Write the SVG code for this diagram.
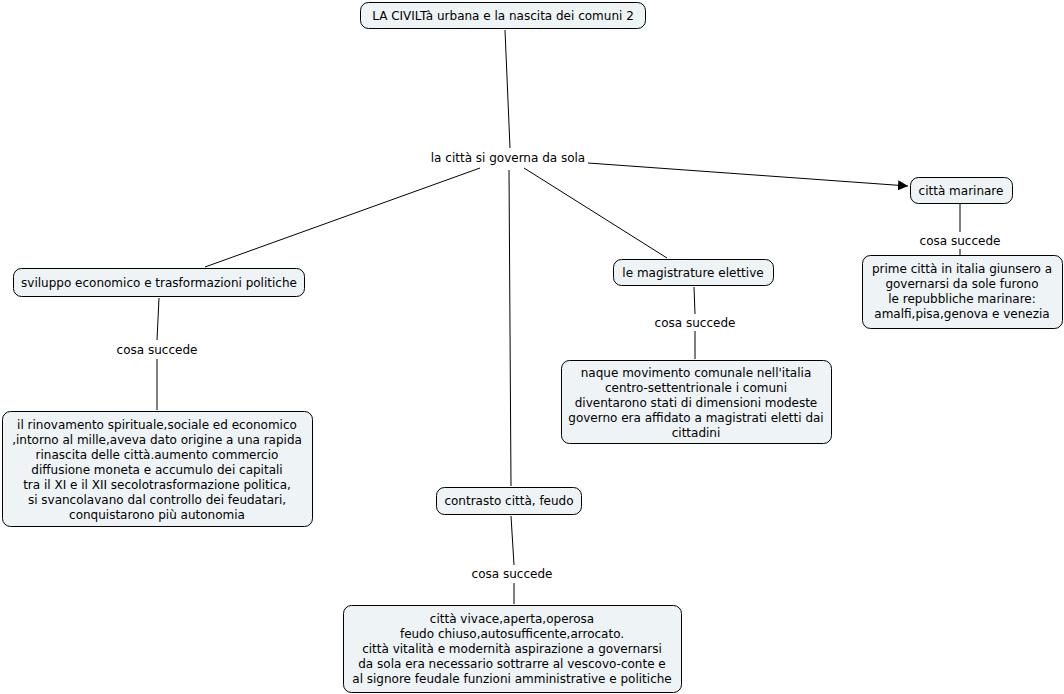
<svg xmlns="http://www.w3.org/2000/svg" width="1064" height="694" viewBox="0 0 1064 694">
<style>
.n{fill:#eef3f5;stroke:#000;stroke-width:1}
text{font-family:"DejaVu Sans",Verdana,sans-serif;font-size:12px;fill:#000;text-anchor:middle}
.c{stroke:#000;stroke-width:1;fill:none}
</style>
<defs>
<marker id="ar" viewBox="0 0 10 10" refX="10" refY="5" markerWidth="10" markerHeight="10" markerUnits="userSpaceOnUse" orient="auto">
<path d="M0,0 L10,5 L0,10 z" fill="#000"/>
</marker>
</defs>
<rect width="1064" height="694" fill="#fff"/>
<g id="connectors">
<line class="c" x1="505" y1="30" x2="510" y2="148"/>
<line class="c" x1="588" y1="163" x2="908" y2="186" marker-end="url(#ar)"/>
<line class="c" x1="480" y1="168" x2="205" y2="267"/>
<line class="c" x1="524" y1="168" x2="667" y2="258"/>
<line class="c" x1="509" y1="170" x2="511" y2="486"/>
<line class="c" x1="960" y1="204" x2="960" y2="232"/>
<line class="c" x1="960" y1="249" x2="960" y2="255"/>
<line class="c" x1="159" y1="298" x2="157" y2="340"/>
<line class="c" x1="157" y1="359" x2="157" y2="410"/>
<line class="c" x1="694" y1="287" x2="695" y2="314"/>
<line class="c" x1="695" y1="331" x2="695" y2="359"/>
<line class="c" x1="511" y1="516" x2="514" y2="565"/>
<line class="c" x1="514" y1="583" x2="514" y2="604"/>
</g>
<g id="n-title"><rect class="n" x="360.5" y="2.5" width="285" height="26" rx="8"/><text x="503" y="20">LA CIVILTà urbana e la nascita dei comuni 2</text></g>
<g id="n-center"><text x="508" y="162">la città si governa da sola</text></g>
<g id="n-marinare"><rect class="n" x="910.5" y="177.5" width="102" height="26" rx="8"/><text x="961" y="195">città marinare</text></g>
<g id="l-marinare"><text x="960" y="245">cosa succede</text></g>
<g id="n-marinare-d"><rect class="n" x="862.5" y="255.5" width="200" height="73" rx="8"/>
<text x="962" y="273">prime città in italia giunsero a</text>
<text x="962" y="288">governarsi da sole furono</text>
<text x="962" y="303">le repubbliche marinare:</text>
<text x="962" y="318">amalfi,pisa,genova e venezia</text></g>
<g id="n-sviluppo"><rect class="n" x="13.5" y="268.5" width="291" height="28" rx="8"/><text x="159" y="287">sviluppo economico e trasformazioni politiche</text></g>
<g id="l-sviluppo"><text x="157" y="354">cosa succede</text></g>
<g id="n-sviluppo-d"><rect class="n" x="2.5" y="411.5" width="310" height="115" rx="8"/>
<text x="157" y="429">il rinovamento spirituale,sociale ed economico</text>
<text x="157" y="444">,intorno al mille,aveva dato origine a una rapida</text>
<text x="157" y="459">rinascita delle città.aumento commercio</text>
<text x="157" y="474">diffusione moneta e accumulo dei capitali</text>
<text x="157" y="489">tra il XI e il XII secolotrasformazione politica,</text>
<text x="157" y="504">si svancolavano dal controllo dei feudatari,</text>
<text x="157" y="519">conquistarono più autonomia</text></g>
<g id="n-magistrature"><rect class="n" x="613.5" y="259.5" width="160" height="26" rx="8"/><text x="693" y="277">le magistrature elettive</text></g>
<g id="l-magistrature"><text x="695" y="327">cosa succede</text></g>
<g id="n-magistrature-d"><rect class="n" x="561.5" y="360.5" width="270" height="83" rx="8"/>
<text x="696" y="377">naque movimento comunale nell'italia</text>
<text x="696" y="392">centro-settentrionale i comuni</text>
<text x="696" y="407">diventarono stati di dimensioni modeste</text>
<text x="696" y="422">governo era affidato a magistrati eletti dai</text>
<text x="696" y="437">cittadini</text></g>
<g id="n-contrasto"><rect class="n" x="436.5" y="487.5" width="145" height="27" rx="8"/><text x="509" y="505">contrasto città, feudo</text></g>
<g id="l-contrasto"><text x="512" y="578">cosa succede</text></g>
<g id="n-contrasto-d"><rect class="n" x="343.5" y="605.5" width="338" height="87" rx="8"/>
<text x="512" y="623">città vivace,aperta,operosa</text>
<text x="512" y="638">feudo chiuso,autosufficente,arrocato.</text>
<text x="512" y="653">città vitalità e modernità aspirazione a governarsi</text>
<text x="512" y="668">da sola era necessario sottrarre al vescovo-conte e</text>
<text x="512" y="683">al signore feudale funzioni amministrative e politiche</text></g>
</svg>
